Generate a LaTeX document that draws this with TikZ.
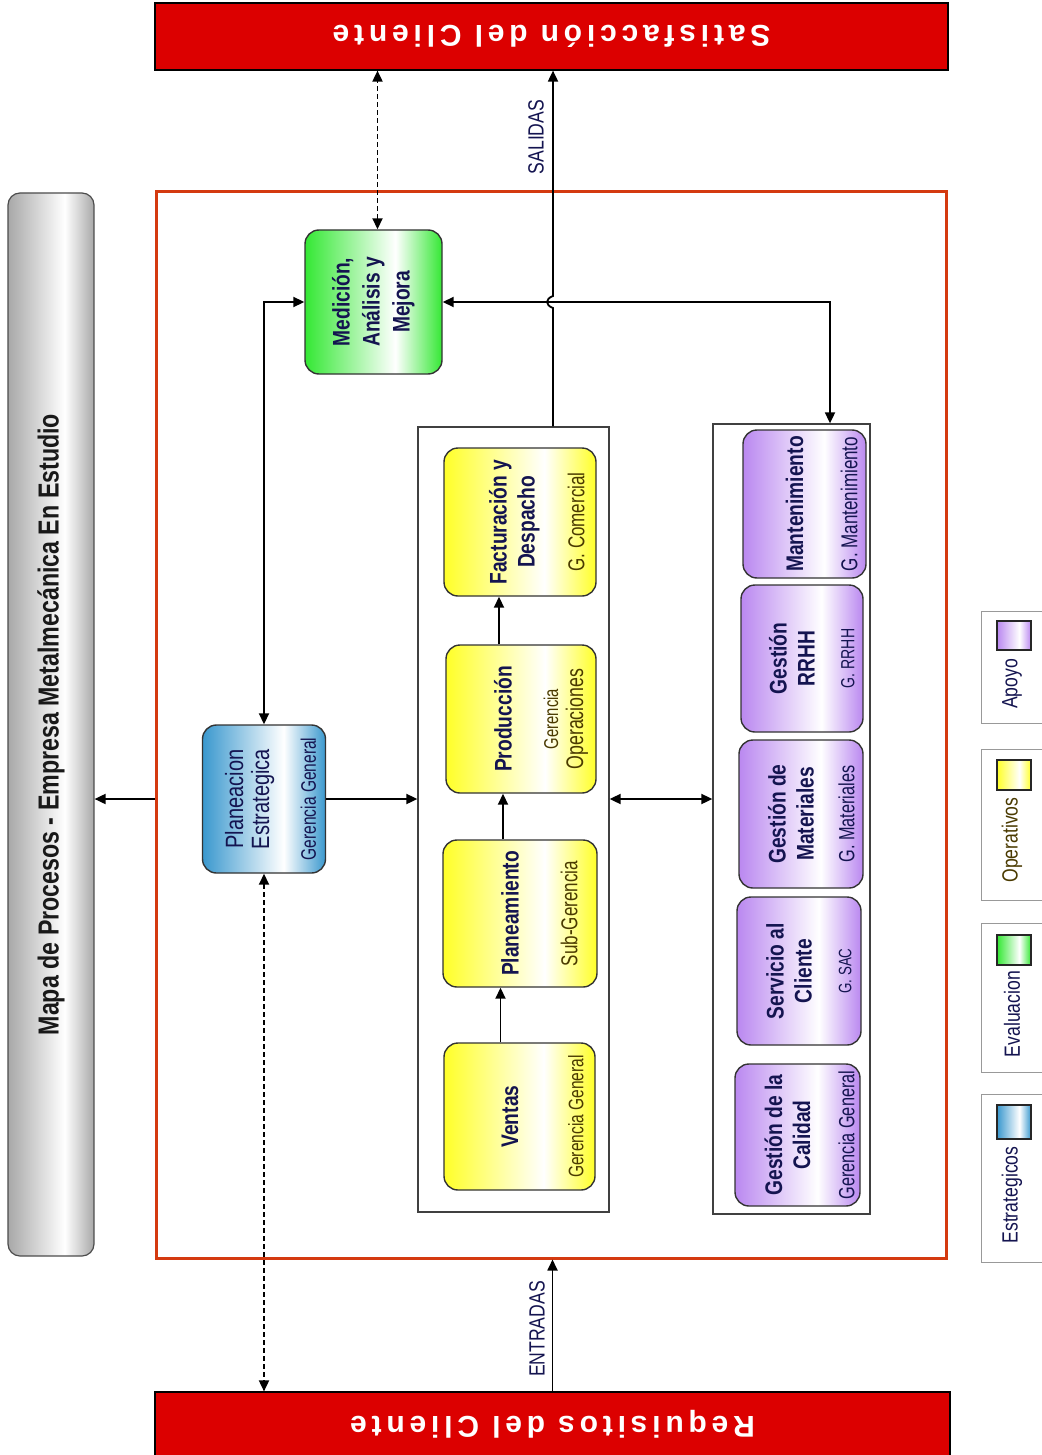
\documentclass[tikz,border=0pt]{standalone}
\usepackage{fontspec}
\usepackage{graphicx}
\setmainfont{Liberation Sans}
\newfontfamily\condfont[FakeStretch=0.8]{Liberation Sans}
\newfontfamily\subfont[FakeStretch=0.74]{Liberation Sans}
\newfontfamily\spacedfont[LetterSpace=16]{Liberation Sans}
\usetikzlibrary{arrows.meta,calc}

% palette
\definecolor{barred}{RGB}{220,0,0}
\definecolor{framered}{RGB}{212,58,16}
\definecolor{inknavy}{RGB}{20,20,80}
\definecolor{inkolive}{RGB}{74,58,0}
\definecolor{stratcol}{RGB}{58,152,206}
\definecolor{evalcol}{RGB}{52,232,52}
\definecolor{opcol}{RGB}{255,255,40}
\definecolor{supcol}{RGB}{186,136,240}
\definecolor{barcol}{RGB}{168,168,168}

% colour -> white -> colour, brightest a little right of centre
\colorlet{shadecol}{gray}
\pgfdeclarehorizontalshading[shadecol]{procshade}{100bp}{%
  color(0bp)=(shadecol); color(25bp)=(shadecol); color(58bp)=(white);
  color(75bp)=(shadecol); color(100bp)=(shadecol)}

\newcommand\ttl[1]{\rotatebox{90}{\begin{tabular}{@{}c@{}}#1\end{tabular}}}
\newcommand\fs[1]{\fontsize{#1}{#1}\selectfont}

\tikzset{
  tint/.style={/utils/exec={\colorlet{shadecol}{#1}}},
  procbox/.style={rounded corners=14pt, draw=black!80, line width=1.4pt,
    shading=procshade, inner sep=0pt, text=inknavy,
    font={\condfont\bfseries\fontsize{24}{28}\selectfont}},
  stratbox/.style={procbox, tint=stratcol},
  evalbox/.style={procbox, tint=evalcol},
  opbox/.style={procbox, tint=opcol},
  supbox/.style={procbox, tint=supcol},
  subnote/.style={rotate=90, anchor=south, inner sep=0pt, text=#1,
    font={\subfont\fontsize{22}{25}\selectfont}},
  subnote/.default=inknavy,
  container/.style={draw=black!75, line width=1.3pt, inner sep=0pt},
  redbar/.style={draw=black, line width=1.2pt, fill=barred, inner sep=0pt,
    text=white, font={\spacedfont\bfseries\fontsize{30}{30}\selectfont}},
  legbox/.style={draw=black!40, line width=1pt, inner sep=0pt, minimum width=70pt},
  swatch/.style={draw=black!85, line width=1.2pt, shading=procshade,
    minimum width=34pt, inner sep=0pt},
  legtext/.style={rotate=90, inner sep=0pt, text=#1,
    font={\condfont\fontsize{22}{22}\selectfont}},
  legtext/.default=inknavy,
  flowtext/.style={rotate=90, inner sep=0pt, text=inknavy,
    font={\condfont\fontsize{22}{22}\selectfont}},
  tipA/.tip={Triangle[length=11pt,width=10pt]},
  conn/.style={line width=1.8pt, -tipA},
  bothconn/.style={line width=1.8pt, tipA-tipA},
  dashconn/.style={line width=1.8pt, tipA-tipA, dash pattern=on 5pt off 3pt}
}

\begin{document}
\begin{tikzpicture}[x=1pt,y=-1pt]
\useasboundingbox (0,0) rectangle (1041,1455);
\fill[white] (0,0) rectangle (1041,1455);

% customer bars
\node[redbar, minimum width=793pt, minimum height=67pt] (top) at (551.5,36.5)
  {\rotatebox{180}{Satisfacción del Cliente}};
\node[redbar, minimum width=795pt, minimum height=64pt] (bot) at (552.5,1424)
  {\rotatebox{180}{Requisitos del Cliente}};

% title column
\node[rounded corners=12pt, draw=black!70, line width=1.2pt, tint=barcol,
  shading=procshade, inner sep=0pt, minimum width=86pt, minimum height=1063pt,
  text=black!90] (gbar) at (51,724.5)
  {\rotatebox{90}{\condfont\bfseries\fs{29}Mapa de Procesos - Empresa Metalmecánica En Estudio}};

% process boundary
\node[draw=framered, line width=3pt, inner sep=0pt, minimum width=790pt,
  minimum height=1066pt] (frame) at (551,725) {};

% groups
\node[container, minimum width=191pt, minimum height=785pt] (ops) at (513.5,819.5) {};
\node[container, minimum width=157pt, minimum height=790pt] (sup) at (791.5,819) {};

% strategic and evaluation
\node[stratbox, minimum width=123pt, minimum height=148pt,
  font={\condfont\fontsize{25}{26}\selectfont}] (plan) at (264,799)
  {\ttl{Planeacion\\Estrategica}\hspace*{26pt}};
\node[subnote] (plan-s) at ([xshift=-10pt]plan.east) {\fs{21}Gerencia General};

\node[evalbox, minimum width=137pt, minimum height=144pt,
  font={\condfont\bfseries\fontsize{24}{30}\selectfont}] (med) at (373.5,302)
  {\ttl{Medición,\\Análisis y\\Mejora}};

% operational chain
\node[opbox, minimum width=152pt, minimum height=148pt] (fact) at (520,522)
  {\ttl{Facturación y\\Despacho}\hspace*{10pt}};
\node[subnote=inkolive] (fact-s) at ([xshift=-12pt]fact.east) {\fs{23}G. Comercial};

\node[opbox, minimum width=150pt, minimum height=148pt] (prod) at (521,719)
  {\ttl{Producción}\hspace*{30pt}};
\node[subnote=inkolive] (prod-s) at ([xshift=-6pt]prod.east)
  {\begin{tabular}{@{}c@{}}{\fs{20}Gerencia}\\{\fs{24}Operaciones}\end{tabular}};

\node[opbox, minimum width=154pt, minimum height=147pt] (plm) at (520,913.5)
  {\ttl{Planeamiento}\hspace*{14pt}};
\node[subnote=inkolive] (plm-s) at ([xshift=-20pt]plm.east) {\fs{23}Sub-Gerencia};

\node[opbox, minimum width=151pt, minimum height=147pt] (vent) at (519.5,1116.5)
  {\ttl{Ventas}\hspace*{14pt}};
\node[subnote=inkolive] (vent-s) at ([xshift=-12pt]vent.east) {\fs{21}Gerencia General};

% support processes
\node[supbox, minimum width=123pt, minimum height=148pt] (mant) at (804.5,504)
  {\ttl{Mantenimiento}\hspace*{14pt}};
\node[subnote] (mant-s) at ([xshift=-9pt]mant.east) {\fs{23}G. Mantenimiento};

\node[supbox, minimum width=122pt, minimum height=147pt] (rrhh) at (802,658.5)
  {\ttl{Gestión\\RRHH}\hspace*{14pt}};
\node[subnote] (rrhh-s) at ([xshift=-9pt]rrhh.east) {\fs{19}G. RRHH};

\node[supbox, minimum width=124pt, minimum height=148pt] (mat) at (801,814)
  {\ttl{Gestión de\\Materiales}\hspace*{14pt}};
\node[subnote] (mat-s) at ([xshift=-9pt]mat.east) {\fs{22}G. Materiales};

\node[supbox, minimum width=124pt, minimum height=148pt] (sac) at (799,971)
  {\ttl{Servicio al\\Cliente}\hspace*{14pt}};
\node[subnote] (sac-s) at ([xshift=-10pt]sac.east) {\fs{18}G. SAC};

\node[supbox, minimum width=125pt, minimum height=142pt] (cal) at (797.5,1135)
  {\ttl{Gestión de la\\Calidad}\hspace*{14pt}};
\node[subnote] (cal-s) at ([xshift=-6pt]cal.east) {\fs{22}Gerencia General};

% legend
\node[legbox, minimum height=112pt] (lg-apo) at (1016,667) {};
\node[legbox, minimum height=151pt] (lg-ope) at (1016,824.5) {};
\node[legbox, minimum height=149pt] (lg-eva) at (1016,997.5) {};
\node[legbox, minimum height=168pt] (lg-est) at (1016,1178) {};
\node[swatch, tint=supcol, minimum height=29pt] (sw-apo) at (1014,635.5) {};
\node[swatch, tint=opcol, minimum height=30pt] (sw-ope) at (1014,775) {};
\node[swatch, tint=evalcol, minimum height=30pt] (sw-eva) at (1014,950) {};
\node[swatch, tint=stratcol, minimum height=34pt] (sw-est) at (1014,1122) {};
\node[legtext] (tx-apo) at (1012,684) {Apoyo};
\node[legtext=inkolive] (tx-ope) at (1012,840) {Operativos};
\node[legtext] (tx-eva) at (1012,1014) {Evaluacion};
\node[legtext] (tx-est) at (1012,1195) {Estrategicos};

% inputs and outputs
\coordinate (opsout) at ([xshift=39.5pt]ops.north);
\coordinate (cross) at (opsout |- med.east);
\draw[conn] (opsout) -- ([yshift=-6pt]cross)
  .. controls ([xshift=-8pt,yshift=-3pt]cross) and ([xshift=-8pt,yshift=3pt]cross)
  .. ([yshift=6pt]cross) -- (opsout |- top.south);
\node[flowtext] (salidas) at (536,137) {SALIDAS};
\draw[conn] (bot.north) -- (bot.north |- frame.south);
\node[flowtext] (entradas) at (537,1329) {ENTRADAS};

% links
\draw[conn] (plan.west -| frame.west) -- (plan.west -| gbar.east);
\draw[conn] (plan.east) -- (plan.east -| ops.west);
\draw[bothconn] (plan.north) |- (med.west);
\draw[dashconn] (plan.south) -- (plan.south |- bot.north);
\draw[dashconn] ([xshift=4pt]med.north) -- ([xshift=4pt]med.north |- top.south);
\draw[bothconn] (plan -| ops.east) -- (plan -| sup.west);
\coordinate (supin) at ([xshift=38.5pt]sup.north);
\draw[bothconn] (med.east) -| (supin);

% operational flow
\draw[conn] ([xshift=-19pt]vent.north) -- ([xshift=-19pt]vent.north |- plm.south);
\draw[conn] ([xshift=-17pt]plm.north) -- ([xshift=-17pt]plm.north |- prod.south);
\draw[conn] ([xshift=-22pt]prod.north) -- ([xshift=-22pt]prod.north |- fact.south);
\end{tikzpicture}
\end{document}
